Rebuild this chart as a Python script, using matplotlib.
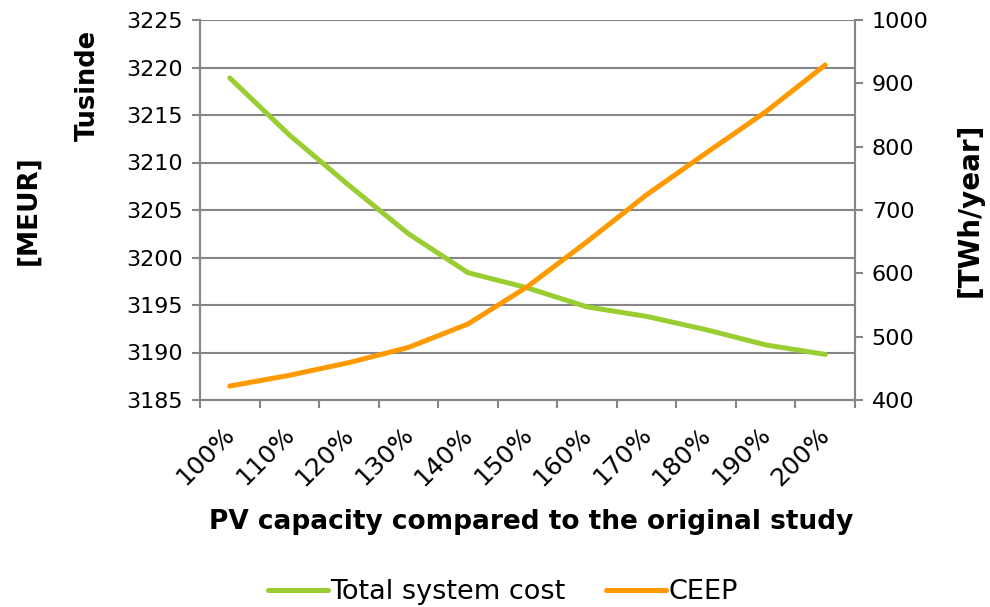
import matplotlib.pyplot as plt
import matplotlib.transforms as mtransforms
import numpy as np

categories = ["100%", "110%", "120%", "130%", "140%", "150%",
              "160%", "170%", "180%", "190%", "200%"]
total_cost = [3218.9, 3212.9, 3207.6, 3202.5, 3198.4, 3196.8,
              3194.8, 3193.8, 3192.4, 3190.8, 3189.8]
ceep = [422, 439, 459, 483, 520, 579, 650, 724, 790, 855, 929]

green = "#9acd32"
orange = "#ff9900"
grey = "#868686"

plt.rcParams["font.family"] = "DejaVu Sans"

fig = plt.figure(figsize=(9.9, 6.07), dpi=100)
ax = fig.add_axes([200/990, 1-400/607, 655/990, 380/607])
ax2 = ax.twinx()

x = np.arange(len(categories))
l1, = ax.plot(x, total_cost, color=green, lw=3.6, solid_capstyle="round", label="Total system cost")
l2, = ax2.plot(x, ceep, color=orange, lw=3.6, solid_capstyle="round", label="CEEP")

ax.set_xlim(-0.5, len(categories) - 0.5)
ax.set_ylim(3185, 3225)
ax.set_yticks(np.arange(3185, 3226, 5))
ax2.set_ylim(400, 1000)
ax2.set_yticks(np.arange(400, 1001, 100))

# category labels, rotated like Excel
ax.set_xticks(x)
ax.set_xticklabels([])
shift = mtransforms.ScaledTranslation(1/100, -31/100, fig.dpi_scale_trans)
for xi, lab in zip(x, categories):
    ax.text(xi, 0, lab, transform=ax.get_xaxis_transform() + shift, rotation=45,
            ha="right", va="center", rotation_mode="anchor", fontsize=18)
ax.set_xticks(np.arange(-0.5, len(categories)), minor=True)
ax.tick_params(axis="x", which="major", length=0)
ax.tick_params(axis="x", which="minor", length=6, color=grey, width=1.5)
ax.tick_params(axis="y", length=6, color=grey, width=1.5, labelsize=16, pad=6)
ax2.tick_params(axis="y", length=6, color=grey, width=1.5, labelsize=16, pad=6)

ax.grid(axis="y", color=grey, lw=1.5)
ax.set_axisbelow(True)
for a in (ax, ax2):
    a.spines["top"].set_visible(False)
    for s in ("left", "right", "bottom"):
        a.spines[s].set_color(grey)
        a.spines[s].set_linewidth(1.5)

fig.text(531/990, 1-522/607, "PV capacity compared to the original study",
         fontsize=19, fontweight="bold", ha="center", va="center")
fig.text(28/990, 1-210/607, "[MEUR]", rotation=90, fontsize=19, fontweight="bold", ha="center", va="center")
fig.text(88/990, 1-85/607, "Tusinde", rotation=90, fontsize=18.5, fontweight="bold", ha="center", va="center")
fig.text(970/990, 1-210/607, "[TWh/year]", rotation=90, fontsize=20, fontweight="bold", ha="center", va="center")

fig.legend(handles=[l1, l2], loc="center", bbox_to_anchor=(503/990, 1-592/607), ncol=2,
           frameon=False, fontsize=19.5, handlelength=2.2, handletextpad=0.1, columnspacing=1.5)

fig.savefig("out.png", dpi=100)
